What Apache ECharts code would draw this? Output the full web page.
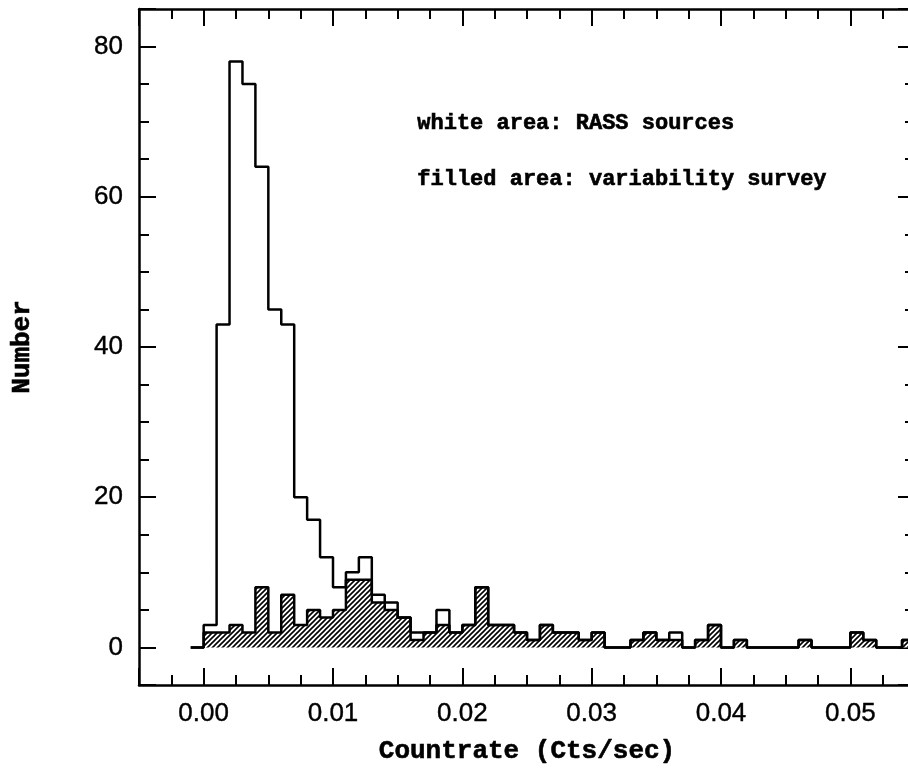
<!DOCTYPE html>
<html>
<head>
<meta charset="utf-8">
<script src="https://cdn.jsdelivr.net/npm/echarts@6/dist/echarts.min.js"></script>
<style>
html,body{margin:0;padding:0;background:#fff;}
#chart{width:908px;height:769px;}
</style>
</head>
<body>
<div id="chart"></div>
<script>
// ---- data ----
const binStart = 0.0;       // left edge of first bin (Cts/sec)
const binWidth = 0.001;     // bin width (Cts/sec)
// white area: RASS sources
const rassCounts = [3,43,78,75,64,45,43,20,17,12, 8,10,12,7,6,4,2,2,5,2, 3,8,3,3,2,1,3,2,2,1, 2,0,0,1,2,1,2,0,1,3, 0,1,0,0,0,0,1,0,0,0, 2,1,0,0,1];
// filled area: variability survey
const varCounts  = [2,2,3,2,8,2,7,3,5,4, 5,9,9,6,5,4,1,2,3,2, 3,8,3,3,2,1,3,2,2,1, 2,0,0,1,2,1,1,0,1,3, 0,1,0,0,0,0,1,0,0,0, 2,1,0,0,1];
const xRange = [-0.005, 0.055];
const yRange = [-5, 85];
const xTitle = 'Countrate (Cts/sec)';
const yTitle = 'Number';
const notes = ['white area: RASS sources', 'filled area: variability survey'];

function steps(vals) {
  const pts = [[binStart - binWidth, 0]];
  vals.forEach((v, i) => pts.push([binStart + i * binWidth, v]));
  pts.push([binStart + vals.length * binWidth, 0]);
  return pts;
}

function hatch() {
  const s = 5;
  const c = document.createElement('canvas');
  c.width = s; c.height = s;
  const g = c.getContext('2d');
  g.strokeStyle = '#000';
  g.lineWidth = 1.6;
  g.beginPath();
  g.moveTo(-1, s + 1); g.lineTo(s + 1, -1);
  g.moveTo(-1, 1); g.lineTo(1, -1);
  g.moveTo(s - 1, s + 1); g.lineTo(s + 1, s - 1);
  g.stroke();
  return c;
}

const isMult = (v, step) => Math.abs(v / step - Math.round(v / step)) < 1e-6;
const tickFont = 'Liberation Sans, Arial, sans-serif';
const textFont = 'Liberation Mono, DejaVu Sans Mono, monospace';
const titleStyle = { color: '#000', fontFamily: textFont, fontWeight: 'bold', fontSize: 26, textBorderColor: '#000', textBorderWidth: 0.6 };

function xAxisCfg(pos, labels) {
  return {
    type: 'value', position: pos, min: xRange[0], max: xRange[1],
    axisLine: { show: true, onZero: false, lineStyle: { color: '#000', width: 2.5 } },
    axisTick: { show: true, inside: true, length: 17, lineStyle: { color: '#000', width: 2 } },
    minorTick: { show: true, splitNumber: 4, length: 10, lineStyle: { color: '#000', width: 2 } },
    splitLine: { show: false },
    axisLabel: labels ? {
      show: true, margin: 16, color: '#000', fontFamily: tickFont, fontSize: 26,
      textBorderColor: '#000', textBorderWidth: 0.4,
      formatter: v => isMult(v, 0.01) ? v.toFixed(2) : ''
    } : { show: false },
    name: labels ? xTitle : '',
    nameLocation: 'middle', nameGap: 53,
    nameTextStyle: titleStyle
  };
}
function yAxisCfg(pos, labels) {
  return {
    type: 'value', position: pos, min: yRange[0], max: yRange[1],
    axisLine: { show: true, onZero: false, lineStyle: { color: '#000', width: 2.5 } },
    axisTick: { show: true, inside: true, length: 17, lineStyle: { color: '#000', width: 2 } },
    minorTick: { show: true, splitNumber: 4, length: 10, lineStyle: { color: '#000', width: 2 } },
    splitLine: { show: false },
    axisLabel: labels ? {
      show: true, margin: 16, color: '#000', fontFamily: tickFont, fontSize: 26,
      textBorderColor: '#000', textBorderWidth: 0.4,
      formatter: v => isMult(v, 20) ? String(Math.round(v)) : ''
    } : { show: false },
    name: labels ? yTitle : '',
    nameLocation: 'middle', nameGap: 104, nameRotate: 90,
    nameTextStyle: titleStyle
  };
}

const chart = echarts.init(document.getElementById('chart'), null, { renderer: 'canvas' });
chart.setOption({
  animation: false,
  backgroundColor: '#fff',
  grid: { left: 139, right: -7, top: 9, bottom: 84, containLabel: false, outerBoundsMode: 'none' },
  xAxis: [xAxisCfg('bottom', true), xAxisCfg('top', false)],
  yAxis: [yAxisCfg('left', true), yAxisCfg('right', false)],
  graphic: [
    { type: 'text', left: 417, top: 112, style: { text: notes[0], fill: '#000', font: 'bold 22px ' + textFont, stroke: '#000', lineWidth: 0.6 } },
    { type: 'text', left: 417, top: 168, style: { text: notes[1], fill: '#000', font: 'bold 22px ' + textFont, stroke: '#000', lineWidth: 0.6 } }
  ],
  series: [
    {
      type: 'line', name: 'RASS', data: steps(rassCounts), step: 'end', symbol: 'none',
      lineStyle: { color: '#000', width: 2.5 }, areaStyle: { color: '#fff', opacity: 1 }, z: 2
    },
    {
      type: 'line', name: 'variability', data: steps(varCounts), step: 'end', symbol: 'none',
      lineStyle: { color: '#000', width: 2.5 },
      areaStyle: { color: { image: hatch(), repeat: 'repeat' }, opacity: 1 }, z: 3
    }
  ]
});
</script>
</body>
</html>
